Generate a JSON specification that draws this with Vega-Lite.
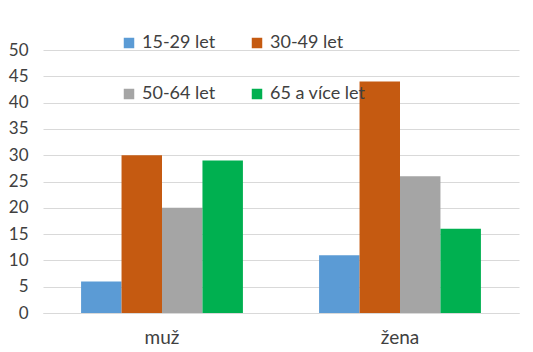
{
  "$schema": "https://vega.github.io/schema/vega-lite/v6.json",
  "width": 476,
  "height": 263,
  "autosize": {"type": "none"},
  "padding": {"left": 43, "top": 50, "right": 14, "bottom": 39},
  "background": "white",
  "data": {
    "values": [
      {"pohlavi": "muž", "vek": "15-29 let", "hodnota": 6},
      {"pohlavi": "muž", "vek": "30-49 let", "hodnota": 30},
      {"pohlavi": "muž", "vek": "50-64 let", "hodnota": 20},
      {"pohlavi": "muž", "vek": "65 a více let", "hodnota": 29},
      {"pohlavi": "žena", "vek": "15-29 let", "hodnota": 11},
      {"pohlavi": "žena", "vek": "30-49 let", "hodnota": 44},
      {"pohlavi": "žena", "vek": "50-64 let", "hodnota": 26},
      {"pohlavi": "žena", "vek": "65 a více let", "hodnota": 16}
    ]
  },
  "mark": {"type": "bar"},
  "encoding": {
    "x": {
      "field": "pohlavi",
      "type": "nominal",
      "sort": ["muž", "žena"],
      "scale": {"paddingInner": 0.32, "paddingOuter": 0.16},
      "axis": {
        "title": null,
        "labelAngle": 0,
        "labelFontSize": 19,
        "labelColor": "#404040",
        "labelPadding": 15,
        "ticks": false,
        "domainColor": "#d9d9d9",
        "labelFont": "Lato"
      }
    },
    "xOffset": {"field": "vek", "type": "nominal", "sort": ["15-29 let", "30-49 let", "50-64 let", "65 a více let"]},
    "y": {
      "field": "hodnota",
      "type": "quantitative",
      "scale": {"domain": [0, 50]},
      "axis": {
        "title": null,
        "values": [0, 5, 10, 15, 20, 25, 30, 35, 40, 45, 50],
        "domain": false,
        "ticks": false,
        "gridColor": "#d9d9d9",
        "labelPadding": 15,
        "labelFontSize": 17,
        "labelColor": "#404040",
        "labelFont": "Lato"
      }
    },
    "color": {
      "field": "vek",
      "type": "nominal",
      "sort": ["15-29 let", "30-49 let", "50-64 let", "65 a více let"],
      "scale": {
        "domain": ["15-29 let", "30-49 let", "50-64 let", "65 a více let"],
        "range": ["#5B9BD5", "#C55A11", "#A5A5A5", "#00B050"]
      },
      "legend": {
        "title": null,
        "orient": "none",
        "direction": "horizontal",
        "legendX": 77,
        "legendY": -16,
        "columns": 2,
        "columnPadding": 32,
        "rowPadding": 33,
        "symbolType": "square",
        "symbolSize": 110,
        "symbolStrokeWidth": 0,
        "labelFontSize": 18,
        "labelColor": "#404040",
        "labelFont": "Lato",
        "labelOffset": 4
      }
    }
  },
  "config": {"view": {"stroke": null}}
}
